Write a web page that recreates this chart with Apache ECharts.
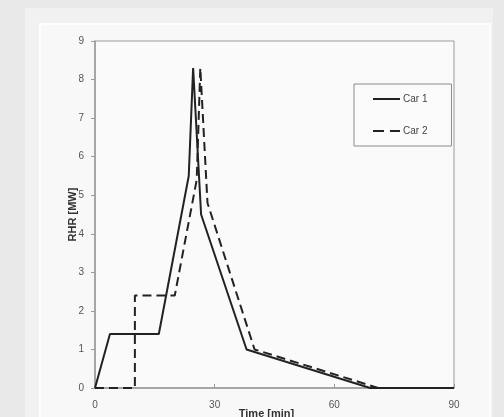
<!DOCTYPE html>
<html>
<head>
<meta charset="utf-8">
<script src="https://cdn.jsdelivr.net/npm/echarts@6/dist/echarts.min.js"></script>
<style>
  html, body { margin: 0; padding: 0; background: #e9e9e9; }
  #chart { width: 504px; height: 417px; }
</style>
</head>
<body>
<div id="chart"></div>
<script>
// time [min], RHR [MW]
const car1Time = [0, 3.75, 16, 23.5, 24.6, 26.6, 38, 69, 90]
const car1Rhr = [0, 1.4, 1.4, 5.5, 8.3, 4.5, 1.0, 0, 0]
const car2Time = [0, 10, 10, 20, 25.5, 26.4, 28.2, 40, 71, 90]
const car2Rhr = [0, 0, 2.4, 2.4, 5.4, 8.3, 4.8, 1.0, 0, 0]
const xTicks = [0, 30, 60, 90]
const yTicks = [0, 1, 2, 3, 4, 5, 6, 7, 8, 9]

const pairs = (xs, ys) => xs.map((x, i) => [x, ys[i]])

const chart = echarts.init(document.getElementById('chart'))

const labelStyle = {
  color: '#555',
  fontSize: 10,
  fontFamily: 'Liberation Sans, Arial, sans-serif'
}

chart.setOption({
  backgroundColor: '#e9e9e9',
  animation: false,
  graphic: [
    {
      type: 'rect',
      z: -10,
      shape: { x: 25, y: 8, width: 468, height: 420 },
      style: { fill: '#f1f1f1' }
    },
    {
      type: 'rect',
      z: -9,
      shape: { x: 40, y: 24, width: 450, height: 400 },
      style: { fill: '#f8f8f8', stroke: '#fdfdfd', lineWidth: 2 }
    }
  ],
  grid: {
    left: 95,
    right: 50,
    top: 41,
    bottom: 29,
    outerBoundsMode: 'none',
    containLabel: false,
    show: true,
    backgroundColor: '#fafafa',
    borderColor: '#9a9a9a',
    borderWidth: 1
  },
  legend: {
    left: 354,
    top: 84,
    orient: 'vertical',
    itemWidth: 27,
    itemHeight: 2,
    itemGap: 22,
    padding: [10, 24, 10, 19],
    borderColor: '#8a8a8a',
    borderWidth: 1,
    backgroundColor: '#fbfbfb',
    textStyle: { color: '#444', fontSize: 10, fontFamily: 'Liberation Sans, Arial, sans-serif', padding: [0, 0, 0, -2] },
    data: [
      { name: 'Car 1', icon: 'path://M0,0h27v2h-27z', itemStyle: { color: '#222' } },
      { name: 'Car 2', icon: 'path://M0,0h11v2h-11zM17,0h10v2h-10z', itemStyle: { color: '#222' } }
    ]
  },
  xAxis: {
    type: 'value',
    min: 0,
    max: 90,
    interval: 30,
    name: 'Time [min]',
    nameLocation: 'middle',
    nameGap: 20,
    nameMoveOverlap: false,
    nameTextStyle: {
      color: '#333',
      fontSize: 11,
      fontWeight: 'bold',
      fontFamily: 'Liberation Sans, Arial, sans-serif',
      padding: [0, 16, 0, 0]
    },
    axisLine: { lineStyle: { color: '#9a9a9a', width: 1.5 } },
    axisTick: { show: true, inside: true, length: 4, lineStyle: { color: '#9a9a9a' } },
    axisLabel: Object.assign({}, labelStyle, {
      margin: 12,
      formatter: v => (xTicks.includes(v) ? String(v) : '')
    }),
    splitLine: { show: false }
  },
  yAxis: {
    type: 'value',
    min: 0,
    max: 9,
    interval: 1,
    name: 'RHR [MW]',
    nameLocation: 'middle',
    nameGap: 17,
    nameMoveOverlap: false,
    nameTextStyle: {
      color: '#333',
      fontSize: 11,
      fontWeight: 'bold',
      fontFamily: 'Liberation Sans, Arial, sans-serif'
    },
    axisLine: { show: true, lineStyle: { color: '#9a9a9a', width: 1.5 } },
    axisTick: { show: true, length: 4, lineStyle: { color: '#9a9a9a' } },
    axisLabel: Object.assign({}, labelStyle, {
      margin: 11,
      formatter: v => (yTicks.includes(v) ? String(v) : '')
    }),
    splitLine: { show: false }
  },
  series: [
    {
      name: 'Car 1',
      type: 'line',
      data: pairs(car1Time, car1Rhr),
      showSymbol: false,
      symbol: 'none',
      color: '#222',
      lineStyle: { color: '#222', width: 2 }
    },
    {
      name: 'Car 2',
      type: 'line',
      data: pairs(car2Time, car2Rhr),
      showSymbol: false,
      symbol: 'none',
      color: '#222',
      lineStyle: { color: '#222', width: 2, type: [9, 5] }
    }
  ]
})
</script>
</body>
</html>
